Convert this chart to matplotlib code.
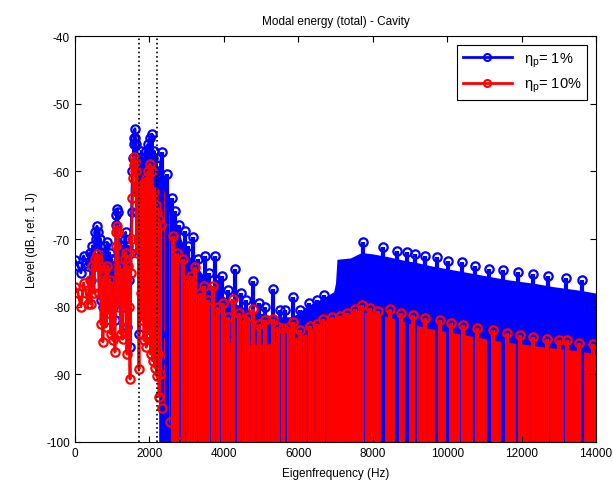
import numpy as np
import matplotlib
matplotlib.use('Agg')
import matplotlib.pyplot as plt

plt.rcParams['font.family'] = ['Liberation Sans', 'DejaVu Sans']
plt.rcParams['axes.unicode_minus'] = False

# low-frequency modes (distinct), shared frequencies for both loss factors
f_sparse = [0, 80, 160, 230, 300, 350, 400, 430, 470, 510, 540, 570, 590, 620,
            650, 680, 700, 730, 750, 780, 810, 840, 870, 900, 930, 960, 990,
            1020, 1050, 1075, 1100, 1115, 1130, 1150, 1170, 1200, 1230, 1260,
            1280, 1310, 1340, 1360, 1380, 1400, 1420, 1450, 1480, 1500, 1520,
            1545, 1560, 1580, 1590, 1610, 1625, 1640, 1655, 1670, 1690, 1700,
            1720, 1735, 1750, 1765, 1780, 1795, 1810, 1825, 1840, 1855, 1870,
            1885, 1900, 1915, 1930, 1945, 1960, 1975, 1990, 2005, 2015, 2030,
            2045, 2060, 2070, 2085, 2100, 2115, 2130, 2145, 2160, 2175, 2190,
            2200, 2215, 2230, 2245, 2260, 2275, 2290, 2305]
blue_sparse = [-73.1, -74, -75, -72.5, -73.5, -74, -72, -76, -71, -74, -69, -70,
               -68.1, -69, -74, -70, -79, -72, -80, -73, -71, -78, -70.5, -77,
               -72, -79, -73, -80, -74, -82, -68, -66.5, -65.6, -66, -75, -70,
               -79, -71, -80, -72, -70, -69, -78, -83, -71, -76, -86, -72, -66,
               -60, -58, -56, -55, -53.7, -55, -56, -66, -58, -63, -58, -84, -62,
               -60, -72, -57, -76, -60, -70, -58, -78, -61, -68, -57, -80, -62,
               -74, -56, -78, -60, -70, -55, -80, -58, -72, -54.5, -82, -58, -74,
               -57, -84, -60, -76, -59, -85, -60, -80, -61, -88, -62, -84, -62]
red_sparse = [-77.1, -78, -80, -76.5, -78, -79.6, -76, -79.6, -74, -78, -73, -74,
              -72.2, -73, -78, -74, -82.6, -76, -85.2, -77, -74.5, -83, -74, -81,
              -76, -84, -77, -85, -78, -86.7, -71, -69, -68.1, -69, -80, -74,
              -84, -75, -84.8, -76, -73, -72, -83, -87, -74, -80, -90.7, -75,
              -70, -64, -61, -59, -57.9, -58.5, -60, -60, -72, -63, -70, -62,
              -89.2, -66, -64, -78, -62, -82, -65, -77, -63, -85, -66, -74, -61,
              -86, -67, -80, -60, -84, -65, -76, -58.9, -87, -63, -78, -60, -88,
              -64, -80, -63, -89, -66, -83, -65, -90.2, -66, -87, -67, -93.3,
              -68, -90, -68]

# dense region (eta = 1 %): band of overlapping modes + resonant peaks
blue_band_f = [2250, 2400, 2550, 2700, 2850, 3000, 3200, 3400, 3600, 3800, 4000,
               4300, 4600, 5000, 5400, 5800, 6000, 6200, 6500, 6800, 6950, 7000,
               7040, 7400, 7700, 8000, 8400, 8800, 9200, 9600, 10000, 10400,
               10800, 11200, 11600, 12000, 12400, 12800, 13200, 13600, 14000]
blue_band_top = [-58, -61, -64, -67, -70, -72, -73.5, -75, -76.5, -77.5, -78.5,
                 -79.5, -80.3, -81, -81.5, -81.5, -81, -80, -79.2, -78.3, -77.8,
                 -76.5, -73, -72.8, -72, -72.2, -72.6, -73.1, -73.5, -74, -74.4,
                 -74.8, -75.2, -75.6, -76, -76.3, -76.6, -77, -77.3, -77.6, -78]
blue_pk_f = [2330, 2470, 2690, 2960, 3170, 3490, 3760, 3950, 4300, 4780, 5320,
             5860, 7740, 8280, 8650, 8920, 9140, 9400, 9730, 10020, 10400,
             10750, 11120, 11500, 11900, 12300, 12710, 13190, 13620]
blue_pk = [-57.1, -60.4, -65.9, -68.8, -69.7, -72.5, -72.5, -75.5, -74.4, -76.2,
           -77.4, -78.6, -70.4, -71.2, -71.8, -71.9, -72.2, -72.5, -72.7, -73.2,
           -73.4, -74, -74.4, -74.6, -74.9, -75.2, -75.5, -75.8, -76.1]
blue_sub_f = [2600, 2800, 3050, 3300, 3600, 3850, 4100, 4450, 4600, 4950, 5100,
              5500, 5650, 6050, 6300, 6500, 6700]
blue_sub = [-64, -68, -71, -73, -75, -76, -77.5, -78, -79, -79.5, -80, -80.5,
            -80.5, -80.5, -79.5, -79, -78.3]

# dense region (eta = 10 %)
red_band_f = [2250, 2350, 2450, 2550, 2700, 2850, 3000, 3300, 3600, 4000, 4400,
              4800, 5200, 5500, 5800, 6000, 6200, 6400, 6700, 7000, 7300,
              7600, 7900, 8200, 8600, 9000, 9500, 10000, 10500, 11000, 11500,
              12000, 12500, 13000, 13500, 14000]
red_band_top = [-60, -62, -64, -67, -72, -75, -78, -82, -84, -85, -85.5, -85.5,
                -85.5, -85, -84.5, -84.5, -84, -83, -82, -81.5, -81, -80.8,
                -80.8, -81.2, -81.8, -82.5, -83.2, -83.7, -84.2, -84.7, -85.2,
                -85.5, -85.9, -86.2, -86.5, -87]
red_band_bot = [-90, -94, -96, -97.5, -99, -100, -100, -100, -100, -100, -100,
                -100, -100, -100, -100, -100, -100, -100, -100, -100, -100,
                -100, -100, -100, -100, -100, -100, -100, -100, -100, -100,
                -100, -100, -100, -100, -100]
red_pk_f = [2630, 2900, 3220, 3700, 4250, 4780, 5320, 5860, 6310, 6660, 7120,
            7520, 7700, 7930, 8460, 9080, 9810, 10430, 11230, 11960, 12680,
            13220, 13920]
red_pk = [-69.5, -73, -74.1, -77, -78.9, -80.4, -81.8, -82.3, -82.9, -81.8,
          -81.4, -80.3, -79.8, -80.2, -80.4, -81.3, -82, -82.7, -83.5, -84.2,
          -84.8, -85, -85.5]
red_sub_f = [2750, 3050, 3120, 3350, 3480, 3580, 3850, 3980, 4100, 4400, 4550,
             4650, 4950, 5100, 5450, 5600, 5750, 6050, 6500, 6900, 7300, 8150,
             8750, 9400, 10100, 10800, 11600, 12300, 13000, 13550]
red_sub = [-72, -76, -75.5, -78, -77, -79, -80, -79.5, -81.5, -81, -82, -81.5,
           -82.5, -82, -83, -83.2, -83, -83.5, -82.5, -81.6, -80.9, -80.6, -81,
           -81.7, -82.4, -83.1, -83.9, -84.5, -85, -85.3]
red_low_f = [2350, 2550, 2820]
red_low = [-95, -97, -100]

f_dotted = [1720, 2200]

fig = plt.figure(figsize=(6.13, 4.89), dpi=100)
ax = fig.add_axes([0.1223, 0.0941, 0.85, 0.8302])

mk = dict(marker='o', markersize=6, markerfacecolor='none', markeredgewidth=1.6)

ax.plot(f_sparse, blue_sparse, '-', color='b', lw=2, **mk)
ax.fill_between(blue_band_f, -100.5, blue_band_top, color='b', lw=0)
ax.vlines(blue_pk_f + blue_sub_f, -100, blue_pk + blue_sub, color='b', lw=3)
ax.plot(blue_pk_f + blue_sub_f, blue_pk + blue_sub, ls='none', color='b', **mk)

ax.plot(f_sparse, red_sparse, '-', color='r', lw=2, **mk)
ax.fill_between(red_band_f, red_band_bot, red_band_top, color='r', lw=0)
ax.vlines(red_pk_f + red_sub_f, -100, red_pk + red_sub, color='r', lw=3)
ax.plot(red_pk_f + red_sub_f, red_pk + red_sub, ls='none', color='r', **mk)
ax.plot(red_low_f, red_low, ls='none', color='r', **mk)

for fd in f_dotted:
    ax.axvline(fd, color='k', ls=':', lw=1.2)

# legend handles: line with a small circle marker
ax.plot([], [], '-o', color='b', lw=2, ms=5, mfc='none', mew=1.5,
        label=r'$\mathregular{\eta_p}$= 1%')
ax.plot([], [], '-o', color='r', lw=2, ms=5, mfc='none', mew=1.5,
        label=r'$\mathregular{\eta_p}$= 10%')

ax.set_xlim(0, 14000)
ax.set_ylim(-100, -40)
ax.set_xticks(np.arange(0, 14001, 2000))
ax.set_yticks(np.arange(-100, -39, 10))
ax.tick_params(direction='in', top=True, right=True, length=4, labelsize=8.5)
ax.set_xlabel('Eigenfrequency (Hz)', fontsize=8.5, labelpad=6)
ax.set_ylabel('Level (dB, ref. 1 J)', fontsize=8.5, labelpad=6)
ax.set_title('Modal energy (total) - Cavity', fontsize=8.5, pad=9)

leg = ax.legend(loc='upper right', fontsize=10.5, handlelength=3.4, fancybox=False,
                framealpha=1, edgecolor='k', borderaxespad=0.6)
leg.get_frame().set_linewidth(0.8)

fig.savefig('out.png', dpi=100)
